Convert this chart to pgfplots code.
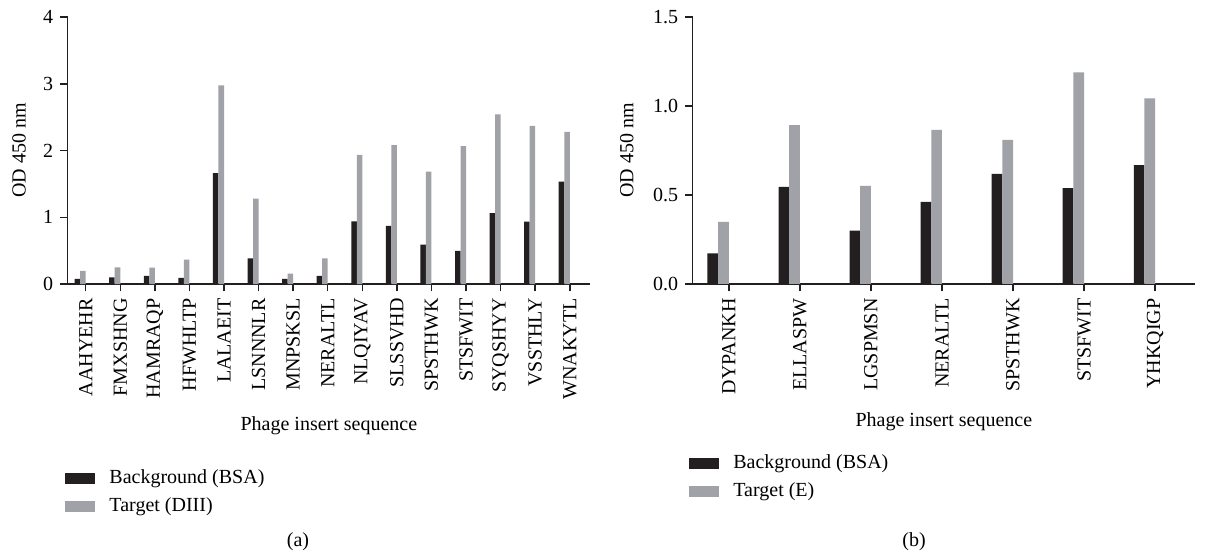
\documentclass[border=0pt]{standalone}
\usepackage{fontspec}
\setmainfont{Liberation Serif}
\usepackage{pgfplots}
\usepackage{pgfplotstable}
\pgfplotsset{compat=1.18}
\definecolor{barblack}{HTML}{231F20}
\definecolor{bargray}{HTML}{A0A2A7}
\definecolor{axiscol}{HTML}{231F20}

\pgfplotstableread{
x label bsa target
0 AAHYEHR 0.075 0.195
1 FMXSHNG 0.10 0.25
2 HAMRAQP 0.12 0.245
3 HFWHLTP 0.09 0.365
4 LALAEIT 1.66 2.975
5 LSNNNLR 0.385 1.28
6 MNPSKSL 0.075 0.155
7 NERALTL 0.12 0.385
8 NLQIYAV 0.94 1.935
9 SLSSVHD 0.87 2.08
10 SPSTHWK 0.59 1.685
11 STSFWIT 0.495 2.065
12 SYQSHYY 1.06 2.54
13 VSSTHLY 0.935 2.37
14 WNAKYTL 1.535 2.28
}\tabA

\pgfplotstableread{
x label bsa target
0 DYPANKH 0.1725 0.349
1 ELLASPW 0.546 0.8925
2 LGSPMSN 0.30 0.551
3 NERALTL 0.461 0.866
4 SPSTHWK 0.619 0.81
5 STSFWIT 0.538 1.189
6 YHKQIGP 0.6675 1.0425
}\tabB

\pgfplotsset{
  myaxis/.style={
    scale only axis,
    anchor=south west,
    height=133.5pt,
    ymin=0,
    axis x line*=bottom,
    axis y line*=left,
    axis line style={-, line width=0.75pt, color=axiscol},
    every tick/.style={line width=0.75pt, color=axiscol},
    tick align=outside,
    major tick length=3.7pt,
    /pgf/number format/assume math mode=true,
    xtick=data,
    x tick label style={rotate=90, anchor=east, font=\fontsize{10}{12}\selectfont},
    y tick label style={font=\fontsize{10}{12}\selectfont},
    label style={font=\fontsize{10}{12}\selectfont},
    ylabel={OD 450 nm},
    xlabel={Phage insert sequence},
    legend cell align=left,
    legend style={draw=none, fill=none, anchor=north west, inner sep=0pt,
      row sep=1pt, font=\fontsize{10}{12}\selectfont,
      nodes={inner sep=2pt, text height=7pt, text depth=2pt},
      /tikz/every odd column/.append style={column sep=5pt}},
    legend image code/.code={\fill[##1] (0pt,-2.7pt) rectangle (15pt,2.7pt);},
  }
}

\begin{document}
\begin{tikzpicture}
\useasboundingbox (0,0) rectangle (607.5pt,-277.5pt);

\begin{axis}[myaxis,
  at={(33.85pt,-142pt)},
  width=261.2pt,
  xmin=-0.52, xmax=14.587,
  ymax=4, ytick={0,1,2,3,4},
  xticklabels from table={\tabA}{label},
  ylabel style={at={(axis description cs:-0.093,0.5)}, anchor=center},
  xlabel style={at={(axis description cs:0.5,-0.5307)}, anchor=center},
  legend style={at={(axis description cs:-0.005,-0.677)}},
]
\addplot[ybar, bar width=0.16, bar shift=-0.24, fill=barblack, draw=none] table[x=x, y=bsa] {\tabA};
\addlegendentry{Background (BSA)}
\addplot[ybar, bar width=0.16, bar shift=-0.08, fill=bargray, draw=none] table[x=x, y=target] {\tabA};
\addlegendentry{Target (DIII)}
\end{axis}

\begin{axis}[myaxis,
  at={(346.35pt,-142pt)},
  width=251.2pt,
  xmin=-0.508, xmax=6.563,
  ymax=1.5, ytick={0,0.5,1,1.5},
  yticklabel style={/pgf/number format/.cd, fixed, fixed zerofill, precision=1},
  xticklabels from table={\tabB}{label},
  ylabel style={at={(axis description cs:-0.131,0.5)}, anchor=center},
  xlabel style={at={(axis description cs:0.5,-0.5157)}, anchor=center},
  legend style={at={(axis description cs:-0.0074,-0.6206)}},
]
\addplot[ybar, bar width=0.15, bar shift=-0.225, fill=barblack, draw=none] table[x=x, y=bsa] {\tabB};
\addlegendentry{Background (BSA)}
\addplot[ybar, bar width=0.15, bar shift=-0.075, fill=bargray, draw=none] table[x=x, y=target] {\tabB};
\addlegendentry{Target (E)}
\end{axis}

\node[font=\fontsize{10}{12}\selectfont] at (149pt,-271pt) {(a)};
\node[font=\fontsize{10}{12}\selectfont] at (457pt,-271pt) {(b)};
\end{tikzpicture}
\end{document}
